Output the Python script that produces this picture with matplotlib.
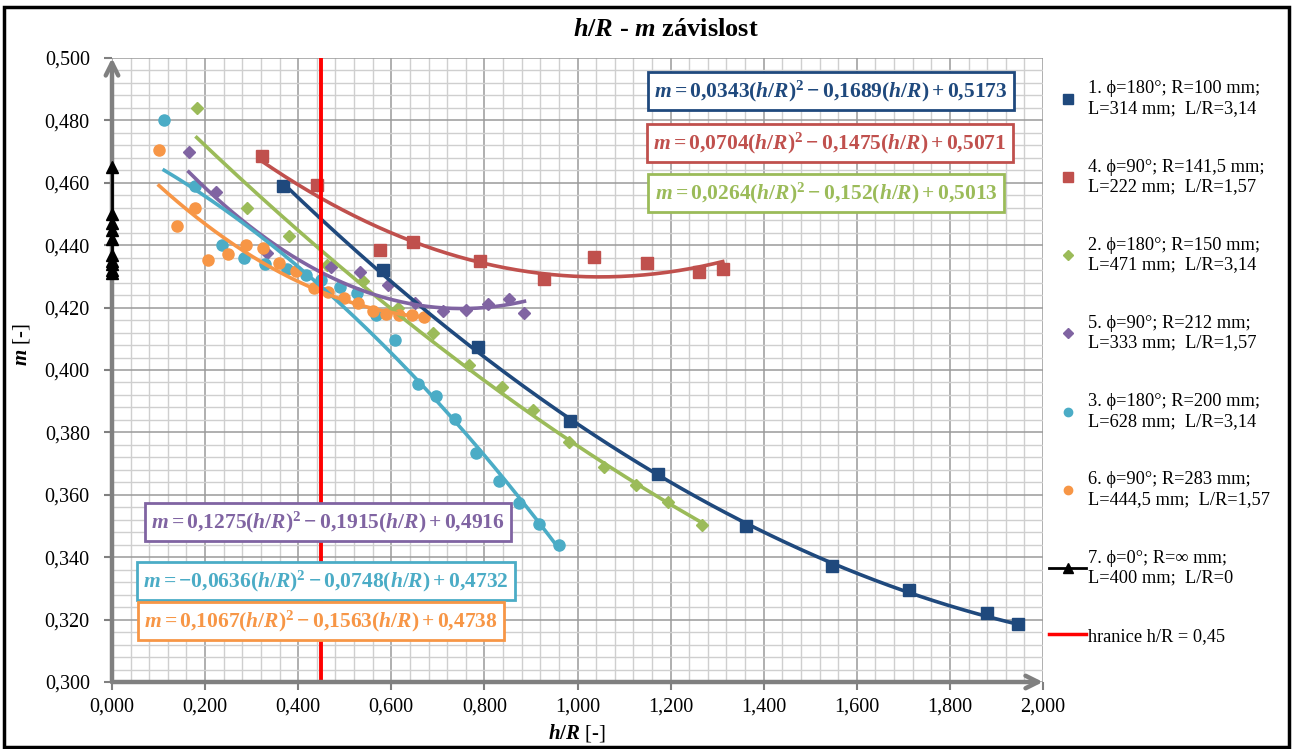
import numpy as np
import matplotlib
matplotlib.use("Agg")
import matplotlib.pyplot as plt
from matplotlib.lines import Line2D
from matplotlib.patches import Rectangle
from matplotlib.ticker import MultipleLocator, FuncFormatter

plt.rcParams['font.family'] = ['Liberation Serif', 'DejaVu Serif']
plt.rcParams['mathtext.fontset'] = 'custom'
plt.rcParams['mathtext.rm'] = 'Liberation Serif:bold'
plt.rcParams['mathtext.it'] = 'Liberation Serif:italic:bold'
plt.rcParams['mathtext.bf'] = 'Liberation Serif:bold'

# --- data ---
s1_x = [0.368, 0.583, 0.787, 0.984, 1.174, 1.363, 1.546, 1.712, 1.879, 1.947]
s1_y = [0.459, 0.432, 0.4074, 0.3837, 0.3667, 0.3501, 0.3373, 0.3295, 0.322, 0.3186]

s4_x = [0.322, 0.440, 0.576, 0.647, 0.791, 0.927, 1.035, 1.150, 1.262, 1.312]
s4_y = [0.4685, 0.4592, 0.4385, 0.441, 0.4349, 0.4292, 0.4363, 0.4344, 0.4315, 0.4324]

s2_x = [0.182, 0.291, 0.380, 0.462, 0.540, 0.614, 0.690, 0.766, 0.837, 0.904,
        0.982, 1.056, 1.126, 1.194, 1.267]
s2_y = [0.484, 0.452, 0.443, 0.4335, 0.4285, 0.420, 0.412, 0.4016, 0.3947, 0.3872,
        0.377, 0.3688, 0.3631, 0.3577, 0.3504]

s5_x = [0.165, 0.223, 0.332, 0.470, 0.532, 0.592, 0.651, 0.710, 0.760, 0.808, 0.853, 0.886]
s5_y = [0.470, 0.457, 0.4374, 0.433, 0.4314, 0.4272, 0.4216, 0.419, 0.4192, 0.421, 0.4228, 0.4182]

s3_x = [0.112, 0.178, 0.237, 0.284, 0.329, 0.375, 0.417, 0.450, 0.490, 0.526,
        0.568, 0.609, 0.658, 0.696, 0.737, 0.783, 0.831, 0.875, 0.918, 0.961]
s3_y = [0.480, 0.459, 0.4402, 0.436, 0.434, 0.4325, 0.4304, 0.4288, 0.4265, 0.4246,
        0.4175, 0.4097, 0.3954, 0.3918, 0.3843, 0.3733, 0.3645, 0.3573, 0.3505, 0.3439]

s6_x = [0.101, 0.139, 0.178, 0.206, 0.249, 0.287, 0.325, 0.359, 0.395, 0.434,
        0.465, 0.499, 0.528, 0.561, 0.589, 0.617, 0.645, 0.670]
s6_y = [0.4704, 0.4463, 0.452, 0.4353, 0.4373, 0.4402, 0.4391, 0.4344, 0.4317, 0.4262,
        0.4249, 0.423, 0.4216, 0.4188, 0.418, 0.4177, 0.4175, 0.4171]

s7_x = [0, 0, 0, 0, 0, 0, 0, 0, 0, 0]
s7_y = [0.465, 0.450, 0.447, 0.445, 0.442, 0.437, 0.435, 0.434, 0.432, 0.431]

# trendline coefficients (a, b, c) as printed on the chart
fit1 = [0.0343, -0.1689, 0.5173]
fit4 = [0.0704, -0.1475, 0.5071]
fit2 = [0.0264, -0.152, 0.5013]
fit5 = [0.1275, -0.1915, 0.4916]
fit3 = [-0.0636, -0.0748, 0.4732]
fit6 = [0.1067, -0.1563, 0.4738]

eq1 = r"$m = 0{,}0343(h/R)^2 - 0{,}1689(h/R) + 0{,}5173$"
eq4 = r"$m = 0{,}0704(h/R)^2 - 0{,}1475(h/R) + 0{,}5071$"
eq2 = r"$m = 0{,}0264(h/R)^2 - 0{,}152(h/R) + 0{,}5013$"
eq5 = r"$m = 0{,}1275(h/R)^2 - 0{,}1915(h/R) + 0{,}4916$"
eq3 = r"$m = -0{,}0636(h/R)^2 - 0{,}0748(h/R) + 0{,}4732$"
eq6 = r"$m = 0{,}1067(h/R)^2 - 0{,}1563(h/R) + 0{,}4738$"

labels = [
    "1. ϕ=180°; R=100 mm;\nL=314 mm;  L/R=3,14",
    "4. ϕ=90°; R=141,5 mm;\nL=222 mm;  L/R=1,57",
    "2. ϕ=180°; R=150 mm;\nL=471 mm;  L/R=3,14",
    "5. ϕ=90°; R=212 mm;\nL=333 mm;  L/R=1,57",
    "3. ϕ=180°; R=200 mm;\nL=628 mm;  L/R=3,14",
    "6. ϕ=90°; R=283 mm;\nL=444,5 mm;  L/R=1,57",
    "7. ϕ=0°; R=∞ mm;\nL=400 mm;  L/R=0",
    "hranice h/R = 0,45",
]
boundary = 0.45

c_blue = '#1F497D'
c_red = '#C0504D'
c_green = '#9BBB59'
c_purple = '#8064A2'
c_cyan = '#4BACC6'
c_orange = '#F79646'

W, H = 1294, 749
fig = plt.figure(figsize=(W / 100, H / 100), dpi=100)
ax = fig.add_axes([112 / W, 1 - 682 / H, (1043 - 112) / W, (682 - 58) / H])
ax.set_xlim(0, 2.0)
ax.set_ylim(0.3, 0.5)

ax.xaxis.set_major_locator(MultipleLocator(0.2))
ax.xaxis.set_minor_locator(MultipleLocator(0.04))
ax.yaxis.set_major_locator(MultipleLocator(0.02))
ax.yaxis.set_minor_locator(MultipleLocator(0.004))
ax.grid(which='major', color='#9A9A9A', lw=1.1, zorder=0)
ax.grid(which='minor', color='#CFCFCF', lw=1.0, zorder=0)
ax.set_axisbelow(True)
fmt = FuncFormatter(lambda v, p: f"{v:.3f}".replace('.', ','))
ax.xaxis.set_major_formatter(fmt)
ax.yaxis.set_major_formatter(fmt)
ax.tick_params(which='major', length=6, width=1.5, color='#808080', labelsize=14.5)
ax.tick_params(which='minor', length=0)
ax.tick_params(axis='x', pad=5)
ax.tick_params(axis='y', pad=10)
for s in ax.spines.values():
    s.set_visible(False)

# axis lines with arrows
arr = dict(arrowstyle='->,head_length=0.9,head_width=0.45', color='#808080', lw=3.2,
           shrinkA=0, shrinkB=0)
ax.annotate('', xy=(1.0, 0), xytext=(0, 0), xycoords='axes fraction', arrowprops=arr,
            annotation_clip=False, zorder=5)
ax.annotate('', xy=(0, 1.0), xytext=(0, 0), xycoords='axes fraction', arrowprops=arr,
            annotation_clip=False, zorder=5)

series = [
    (s1_x, s1_y, fit1, c_blue, 's', 9),
    (s4_x, s4_y, fit4, c_red, 's', 9),
    (s2_x, s2_y, fit2, c_green, 'D', 6.5),
    (s5_x, s5_y, fit5, c_purple, 'D', 6.5),
    (s3_x, s3_y, fit3, c_cyan, 'o', 8),
    (s6_x, s6_y, fit6, c_orange, 'o', 8),
]
handles = []
for xs, ys, fit, col, mk, ms in series:
    ax.plot(xs, ys, ls='none', marker=mk, ms=ms, color=col, mec=col, zorder=3, clip_on=False)
    xx = np.linspace(min(xs), max(xs), 200)
    ax.plot(xx, np.polyval(fit, xx), color=col, lw=2.6, zorder=4)
    handles.append(Line2D([], [], ls='none', marker=mk, ms=ms * 0.75, color=col))

ax.plot(s7_x, s7_y, color='black', lw=2, marker='^', ms=9, zorder=6, clip_on=False)
handles.append(Line2D([], [], color='black', lw=2, marker='^', ms=7))

ax.axvline(boundary, color='#FF0000', lw=2.8, zorder=4)
handles.append(Line2D([], [], color='#FF0000', lw=2.5))

# equation boxes (centers in pixels)
eqs = [
    (eq1, c_blue, 831, 91),
    (eq4, c_red, 830, 143),
    (eq2, c_green, 826, 193),
    (eq5, c_purple, 328, 522),
    (eq3, c_cyan, 326, 581),
    (eq6, c_orange, 321, 621),
]
for txt, col, px, py in eqs:
    fig.text(px / W, 1 - py / H, txt, color=col, fontsize=15.5, ha='center', va='center',
             zorder=10,
             bbox=dict(boxstyle='square,pad=0.3', fc='white', ec=col, lw=2))

fig.legend(handles, labels, loc='upper left', bbox_to_anchor=(1042 / W, 1 - 73 / H),
           frameon=False, fontsize=13.2, labelspacing=2.27, handlelength=2.0,
           handletextpad=0.1, borderaxespad=0)

fig.text(666 / W, 1 - 30 / H, r"$h/R$ - $m$ závislost", ha='center', va='center',
         fontsize=19, fontweight='bold')
fig.text(577 / W, 1 - 733 / H, r"$h/R$ [-]", ha='center', va='center', fontsize=15)
fig.text(22 / W, 1 - 345 / H, r"$m$ [-]", ha='center', va='center', fontsize=15,
         rotation=90)

fig.add_artist(Rectangle((4 / W, 2 / H), (1289 - 4) / W, (742 - 2) / H,
                         transform=fig.transFigure, fill=False, ec='black', lw=2.5))

fig.savefig('out.png', dpi=100)
